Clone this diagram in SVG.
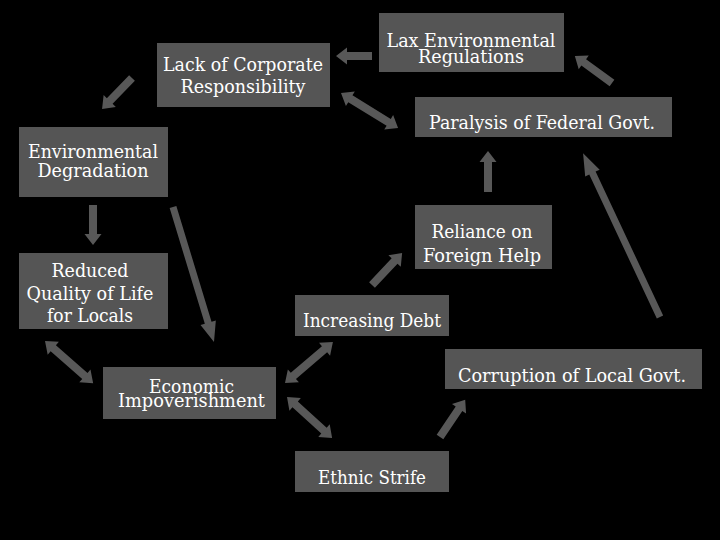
<svg xmlns="http://www.w3.org/2000/svg" width="720" height="540" viewBox="0 0 720 540">
<style>
.box{fill:#555555}
.t{font-family:'DejaVu Serif','Liberation Serif',serif;font-size:18px;fill:#ffffff;text-anchor:middle}
.arr{fill:#585858}
</style>
<rect width="720" height="540" fill="#000000"/>
<g id="connectors">
<path class="arr" transform="translate(372,56) rotate(180)" d="M0,-4H25V-8.5L36,0L25,8.5V4H0Z"/>
<path class="arr" transform="translate(341,93) rotate(31.6)" d="M0,0L11,-8.5V-4H56V-8.5L67,0L56,8.5V4H11V8.5Z"/>
<path class="arr" transform="translate(612,83) rotate(-143.9)" d="M0,-4H35V-8.5L46,0L35,8.5V4H0Z"/>
<path class="arr" transform="translate(132,78) rotate(134.1)" d="M0,-4H32V-8.5L43,0L32,8.5V4H0Z"/>
<path class="arr" transform="translate(93,205) rotate(90)" d="M0,-4H29V-8.5L40,0L29,8.5V4H0Z"/>
<path class="arr" transform="translate(173,207) rotate(73.1)" d="M0,-3.5H121V-8L141,0L121,8V3.5H0Z"/>
<path class="arr" transform="translate(45,341) rotate(41.2)" d="M0,0L11,-8.5V-4H53V-8.5L64,0L53,8.5V4H11V8.5Z"/>
<path class="arr" transform="translate(285,383) rotate(-40.5)" d="M0,0L11,-8.5V-4H52V-8.5L63,0L52,8.5V4H11V8.5Z"/>
<path class="arr" transform="translate(287,397) rotate(42.3)" d="M0,0L11,-8.5V-4H50V-8.5L61,0L50,8.5V4H11V8.5Z"/>
<path class="arr" transform="translate(372,285) rotate(-46.8)" d="M0,-4H33V-8.5L44,0L33,8.5V4H0Z"/>
<path class="arr" transform="translate(488,192) rotate(-90)" d="M0,-4H30V-8.5L41,0L30,8.5V4H0Z"/>
<path class="arr" transform="translate(660,317) rotate(-115.15)" d="M0,-3.5H159V-8L181,0L159,8V3.5H0Z"/>
<path class="arr" transform="translate(440,437) rotate(-55.95)" d="M0,-4H34V-8.5L45,0L34,8.5V4H0Z"/>
</g>
<g id="lack">
<rect class="box" x="157" y="43" width="173" height="64"/>
<text class="t" x="243" y="71" textLength="160" lengthAdjust="spacingAndGlyphs">Lack of Corporate</text>
<text class="t" x="243" y="93" textLength="125" lengthAdjust="spacingAndGlyphs">Responsibility</text>
</g>
<g id="lax">
<rect class="box" x="379" y="13" width="185" height="59"/>
<text class="t" x="471" y="47" textLength="169" lengthAdjust="spacingAndGlyphs">Lax Environmental</text>
<text class="t" x="471" y="63" textLength="106" lengthAdjust="spacingAndGlyphs">Regulations</text>
</g>
<g id="paralysis">
<rect class="box" x="415" y="97" width="257" height="40"/>
<text class="t" x="542" y="129" textLength="226" lengthAdjust="spacingAndGlyphs">Paralysis of Federal Govt.</text>
</g>
<g id="envdeg">
<rect class="box" x="19" y="127" width="149" height="70"/>
<text class="t" x="93" y="158" textLength="130" lengthAdjust="spacingAndGlyphs">Environmental</text>
<text class="t" x="93" y="177" textLength="111" lengthAdjust="spacingAndGlyphs">Degradation</text>
</g>
<g id="reduced">
<rect class="box" x="19" y="253" width="149" height="76"/>
<text class="t" x="90" y="277" textLength="77" lengthAdjust="spacingAndGlyphs">Reduced</text>
<text class="t" x="90" y="300" textLength="127" lengthAdjust="spacingAndGlyphs">Quality of Life</text>
<text class="t" x="90" y="322" textLength="86" lengthAdjust="spacingAndGlyphs">for Locals</text>
</g>
<g id="reliance">
<rect class="box" x="415" y="205" width="137" height="64"/>
<text class="t" x="482" y="238" textLength="101" lengthAdjust="spacingAndGlyphs">Reliance on</text>
<text class="t" x="482" y="262" textLength="118" lengthAdjust="spacingAndGlyphs">Foreign Help</text>
</g>
<g id="debt">
<rect class="box" x="295" y="295" width="154" height="41"/>
<text class="t" x="372" y="327" textLength="138" lengthAdjust="spacingAndGlyphs">Increasing Debt</text>
</g>
<g id="economic">
<rect class="box" x="103" y="367" width="173" height="52"/>
<text class="t" x="191.5" y="393" textLength="85" lengthAdjust="spacingAndGlyphs">Economic</text>
<text class="t" x="191.5" y="407" textLength="147" lengthAdjust="spacingAndGlyphs">Impoverishment</text>
</g>
<g id="ethnic">
<rect class="box" x="295" y="451" width="154" height="41"/>
<text class="t" x="372" y="484" textLength="108" lengthAdjust="spacingAndGlyphs">Ethnic Strife</text>
</g>
<g id="corruption">
<rect class="box" x="445" y="349" width="257" height="40"/>
<text class="t" x="572" y="382" textLength="228" lengthAdjust="spacingAndGlyphs">Corruption of Local Govt.</text>
</g>
</svg>
